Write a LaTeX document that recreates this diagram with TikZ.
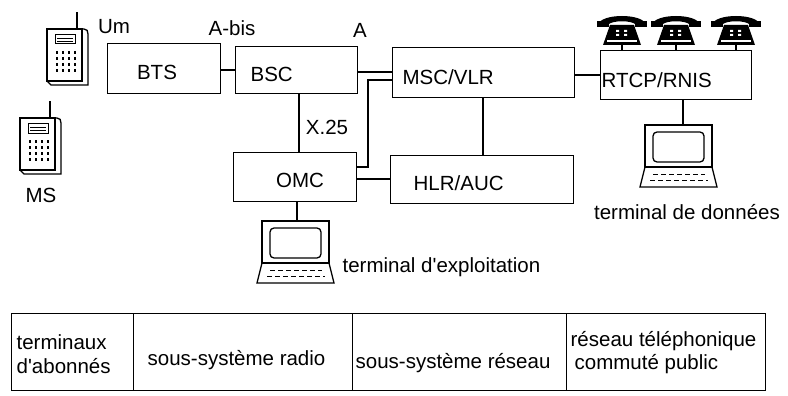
\documentclass[tikz,border=0pt]{standalone}
\usepackage{fontspec}
\setmainfont{Liberation Sans}
\newfontfamily\helv{Liberation Sans}
\usetikzlibrary{calc}
\tikzset{
  x=1pt,y=-1pt,
  every picture/.style={line width=1.3pt},
  lbl/.style={font=\helv\fontsize{20.5}{23}\selectfont, inner sep=0pt},
  boxnode/.style={draw, line width=1.3pt, inner sep=0pt, anchor=north west},
  conn/.style={line width=1.3pt},
  mobilephone/.pic={
    \draw[line width=1.3pt, fill=white] (34,0) -- (37,0) .. controls (40,0) and (41,2) .. (41,5) -- (41,56) -- (4,56) -- (0,52) -- (0,0) -- cycle;
    \draw[line width=1.8pt] (0,0) rectangle (35,52);
    \draw[line width=1.2pt] (30,0) -- (30,-17);
    \draw[line width=1pt] (8,6) rectangle (28,15);
    \draw[line width=0.6pt] (10,9) -- (26,9) (10,12) -- (26,12);
    \foreach \i in {10,16,22,28} { \foreach \j in {22,28,34,40} {
      \draw[line width=1.4pt] (\i,\j) -- (\i,\j+3);
    }}
  },
  deskphone/.pic={
    \fill (1,13) .. controls (3,1) and (47,1) .. (49,13) -- (39,13) .. controls (36,8) and (14,8) .. (11,13) -- cycle;
    \fill (0,9) rectangle (12,15);
    \fill (38,9) rectangle (50,15);
    \fill (13,13) -- (37,13) -- (44,33) -- (6,33) -- cycle;
    \fill[white] (19,18) rectangle (22,20) (19,22) rectangle (22,24)
                 (27,18) rectangle (30,20) (27,22) rectangle (30,24);
    \fill[white] (10,28) rectangle (40,30);
  },
  computer/.pic={
    \draw[line width=1.3pt] (0,0) rectangle (67,42);
    \draw[line width=1.3pt, rounded corners=4pt] (8,7) rectangle (59,37);
    \draw[line width=1.3pt] (0,42) -- (67,42) -- (72,62) -- (-5,62) -- cycle;
    \draw[line width=1pt, dash pattern=on 5pt off 3pt] (8,49) -- (60,49);
    \draw[line width=1pt, dash pattern=on 5pt off 3pt] (5,55) -- (63,55);
  }
}
\begin{document}
\begin{tikzpicture}
\useasboundingbox (0,0) rectangle (788,396);

% boxes
\node[boxnode, minimum width=113pt, minimum height=50pt] (bts) at (107,43) {};
\node[boxnode, minimum width=122pt, minimum height=47pt] (bsc) at (235,46) {};
\node[boxnode, minimum width=182pt, minimum height=50pt] (msc) at (392,47) {};
\node[boxnode, minimum width=151pt, minimum height=49pt] (rtcp) at (600,50) {};
\node[boxnode, minimum width=123pt, minimum height=49pt] (omc) at (233,152) {};
\node[boxnode, minimum width=183pt, minimum height=48pt] (hlr) at (390,155) {};

% box texts
\node[lbl] (tbts) at (157,72) {BTS};
\node[lbl, anchor=west] (tbsc) at (250,74) {BSC};
\node[lbl, anchor=west] (tmsc) at (402,77) {MSC/VLR};
\node[lbl, anchor=west] (trtcp) at (601,80) {RTCP/RNIS};
\node[lbl] (tomc) at (300,180) {OMC};
\node[lbl, anchor=west] (thlr) at (413,183) {HLR/AUC};

% interface labels
\node[lbl] (um) at (114,27) {Um};
\node[lbl] (abis) at (232,28) {A-bis};
\node[lbl] (a) at (360,30) {A};
\node[lbl] (x25) at (327,127) {X.25};
\node[lbl] (ms) at (41,195) {MS};

% mobiles
\pic at (47,29) {mobilephone};
\pic at (20,118) {mobilephone};

% desk phones
\pic at (597,12) {deskphone};
\pic at (651,12) {deskphone};
\pic at (711,12) {deskphone};
\coordinate (ph1) at (622,45);
\coordinate (ph2) at (676,45);
\coordinate (ph3) at (736,45);
\draw[conn] (ph1) -- (ph1 |- rtcp.north);
\draw[conn] (ph2) -- (ph2 |- rtcp.north);
\draw[conn] (ph3) -- (ph3 |- rtcp.north);

% computers
\pic at (645,125) {computer};
\coordinate (dtop) at (683,125);
\pic at (262,221) {computer};
\coordinate (etop) at (297,221);
\node[lbl] (tdonnees) at (687,212) {terminal de données};
\node[lbl, anchor=west] (texpl) at (342,267) {terminal d'exploitation};

% connectors
\draw[conn] (bts.east |- 0,70) -- (bsc.west |- 0,70);
\draw[conn] (bsc.east |- 0,72) -- (msc.west |- 0,72);
\draw[conn] (bsc.south -| 299,0) -- (omc.north -| 299,0);
\coordinate (bend1) at (368,167);
\coordinate (bend2) at (368,80);
\draw[conn] (omc.east |- bend1) -- (bend1) -- (bend2) -- (msc.west |- bend2);
\draw[conn] (omc.east |- 0,179) -- (hlr.west |- 0,179);
\draw[conn] (msc.south -| 483,0) -- (hlr.north -| 483,0);
\draw[conn] (msc.east |- 0,75) -- (rtcp.west |- 0,75);
\draw[conn] (rtcp.south -| dtop) -- (dtop);
\draw[conn] (omc.south -| etop) -- (etop);

% bottom table
\node[boxnode, minimum width=122pt, minimum height=77pt] (c1) at (11,313) {};
\node[boxnode, minimum width=219pt, minimum height=77pt] (c2) at (133,313) {};
\node[boxnode, minimum width=214pt, minimum height=77pt] (c3) at (352,313) {};
\node[boxnode, minimum width=199pt, minimum height=77pt] (c4) at (566,313) {};
\node[lbl, anchor=west, align=left] (t1) at (16,354) {terminaux\\[1pt]d'abonnés};
\node[lbl, anchor=west] (t2) at (147,360) {sous-système radio};
\node[lbl, anchor=west] (t3) at (355,363) {sous-système réseau};
\node[lbl, anchor=west, align=left] (t4) at (570,353) {réseau téléphonique\\[0pt]\hspace{4pt}commuté public};
\end{tikzpicture}
\end{document}
